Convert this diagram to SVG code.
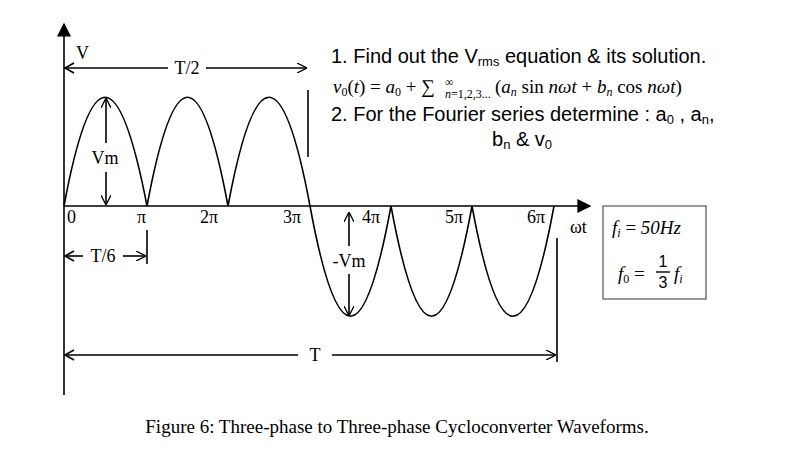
<svg xmlns="http://www.w3.org/2000/svg" width="795" height="473" viewBox="0 0 795 473">
<style>
.l{stroke:#000;stroke-width:1.6;fill:none}
.s{font-family:"Liberation Serif",serif;font-size:18px}
.h{font-family:"Liberation Sans",sans-serif;font-size:20px}
.m{font-family:"Liberation Serif",serif;font-size:19px;font-style:italic}
</style>
<defs>
<marker id="o" viewBox="0 0 10 10" refX="9" refY="5" markerWidth="10" markerHeight="10" markerUnits="userSpaceOnUse" orient="auto-start-reverse"><path d="M0,0 L10,5 L0,10" fill="none" stroke="#000" stroke-width="1.3"/></marker>
<marker id="f" viewBox="0 0 10 10" refX="9" refY="5" markerWidth="14" markerHeight="14" markerUnits="userSpaceOnUse" orient="auto"><path d="M0,0 L10,5 L0,10z" fill="#000"/></marker>
</defs>
<rect width="795" height="473" fill="#fff"/>
<g id="connectors">
<line class="l" x1="64" y1="395" x2="64" y2="24" marker-end="url(#f)"/>
<line class="l" x1="64" y1="206" x2="590" y2="206" marker-end="url(#f)"/>
<path class="l" d="M64,206 C91,61 119,61 147,206 C174,61 201,61 228,206 C255,61 283,61 310,206 C337,353 364,353 391,206 C418,353 445,353 472,206 C499,353 527,353 554,206"/>
<line class="l" x1="308" y1="90" x2="308" y2="157"/>
<line class="l" x1="557" y1="238" x2="557" y2="362"/>
<line class="l" x1="147" y1="230" x2="147" y2="264"/>
<path class="l" d="M74,63 L65,68 L74,73"/>
<line class="l" x1="65" y1="68" x2="168" y2="68"/>
<line class="l" x1="206" y1="68" x2="306" y2="68" marker-end="url(#o)"/>
<path class="l" d="M74,251 L65,256 L74,261"/>
<line class="l" x1="65" y1="256" x2="83" y2="256"/>
<line class="l" x1="123" y1="256" x2="145" y2="256" marker-end="url(#o)"/>
<line class="l" x1="106" y1="143" x2="106" y2="99" marker-end="url(#o)"/>
<line class="l" x1="106" y1="172" x2="106" y2="204" marker-end="url(#o)"/>
<line class="l" x1="349" y1="246" x2="349" y2="213" marker-end="url(#o)"/>
<line class="l" x1="349" y1="274" x2="349" y2="315" marker-end="url(#o)"/>
<path class="l" d="M74,350 L65,355 L74,360"/>
<line class="l" x1="65" y1="355" x2="298" y2="355"/>
<line class="l" x1="332" y1="355" x2="555" y2="355" marker-end="url(#o)"/>
</g>
<g id="labels" class="s">
<text x="76" y="59">V</text>
<text x="187" y="74" text-anchor="middle">T/2</text>
<text x="105" y="164" text-anchor="middle">Vm</text>
<text x="103" y="262" text-anchor="middle">T/6</text>
<text x="349" y="267" text-anchor="middle">-Vm</text>
<text x="315" y="361" text-anchor="middle">T</text>
<text x="67" y="223">0</text>
<text x="137" y="223">π</text>
<text x="200" y="223">2π</text>
<text x="283" y="223">3π</text>
<text x="362" y="223">4π</text>
<text x="445" y="223">5π</text>
<text x="527" y="223">6π</text>
<text x="570" y="233">ωt</text>
</g>
<g id="box">
<rect x="603" y="206" width="103" height="93" fill="#fff" stroke="#555" stroke-width="1.2"/>
<text class="m" x="612" y="234"><tspan>f</tspan><tspan font-size="12" dy="3">i</tspan><tspan dy="-3" font-style="normal"> = </tspan><tspan>50Hz</tspan></text>
<text class="m" x="618" y="280"><tspan>f</tspan><tspan font-size="12" dy="3" font-style="normal">0</tspan><tspan dy="-3" font-style="normal"> =</tspan></text>
<text x="663" y="267" font-family="Liberation Sans,sans-serif" font-size="16" text-anchor="middle">1</text>
<line x1="656" y1="272" x2="670" y2="272" stroke="#000" stroke-width="1.4"/>
<text x="663" y="288" font-family="Liberation Sans,sans-serif" font-size="16" text-anchor="middle">3</text>
<text class="m" x="674" y="280"><tspan>f</tspan><tspan font-size="12" dy="3">i</tspan></text>
</g>
<g id="questions">
<text class="h" x="331" y="63">1. Find out the V<tspan font-size="13" dy="3">rms</tspan><tspan dy="-3"> equation  &amp; its solution.</tspan></text>
<text class="m" x="333" y="93" font-size="20">v<tspan font-size="12" dy="3" font-style="normal">0</tspan><tspan dy="-3" font-style="normal">(</tspan>t<tspan font-style="normal">) = </tspan>a<tspan font-size="12" dy="3" font-style="normal">0</tspan><tspan dy="-3" font-style="normal"> + ∑</tspan></text>
<text x="445" y="86" font-family="Liberation Serif,serif" font-size="12">∞</text>
<text x="445" y="98" font-family="Liberation Serif,serif" font-size="12"><tspan font-style="italic">n</tspan>=1,2,3...</text>
<text class="m" x="495" y="93" font-size="20"><tspan font-style="normal">(</tspan>a<tspan font-size="12" dy="3">n</tspan><tspan dy="-3" font-style="normal">  sin </tspan>nωt<tspan font-style="normal"> + </tspan>b<tspan font-size="12" dy="3">n</tspan><tspan dy="-3" font-style="normal">  cos </tspan>nωt<tspan font-style="normal">)</tspan></text>
<text class="h" x="331" y="121">2. For the Fourier series determine  : a<tspan font-size="13" dy="3">0</tspan><tspan dy="-3"> , a</tspan><tspan font-size="13" dy="3">n</tspan><tspan dy="-3">,</tspan></text>
<text class="h" x="492" y="146">b<tspan font-size="13" dy="3">n</tspan><tspan dy="-3">  &amp; v</tspan><tspan font-size="13" dy="3">0</tspan></text>
</g>
<text x="397" y="433" text-anchor="middle" font-family="Liberation Serif,serif" font-size="19">Figure 6: Three-phase to Three-phase Cycloconverter Waveforms.</text>
</svg>
